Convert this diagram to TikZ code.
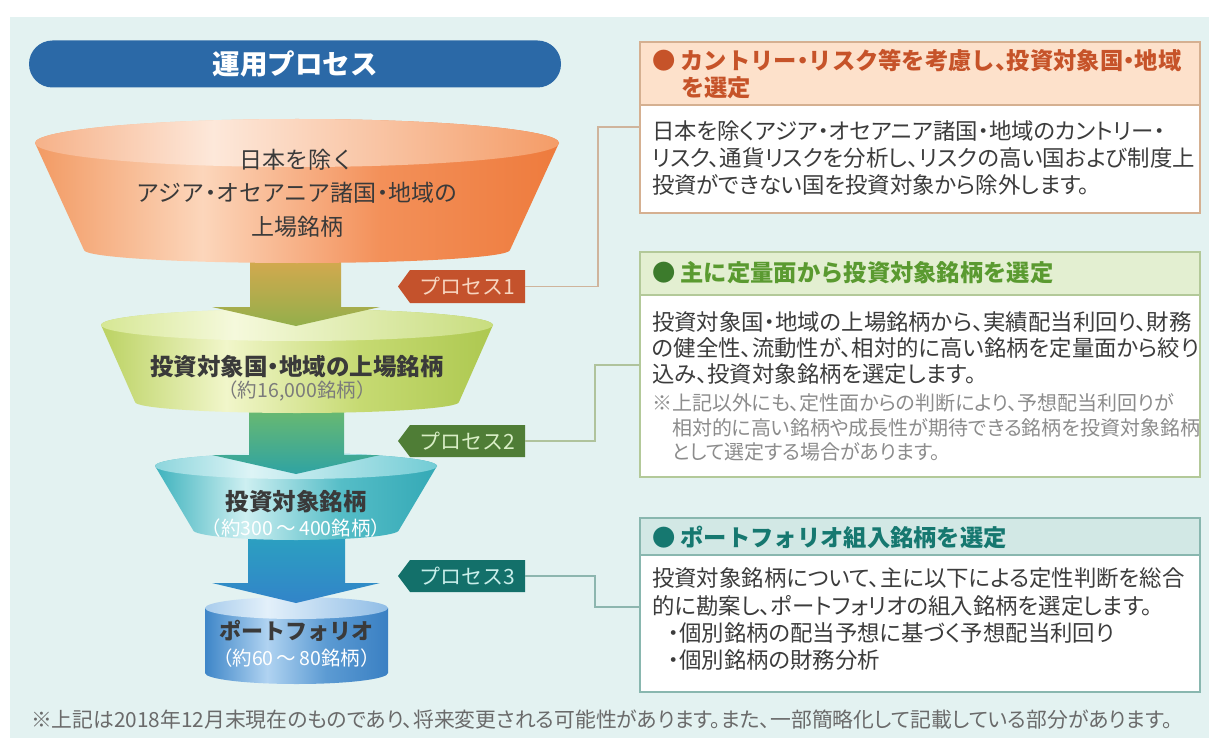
\documentclass[tikz,border=0pt]{standalone}
\usepackage{fontspec}
\setmainfont{Noto Sans CJK JP}[RawFeature=+palt]
\newfontfamily\fw{Noto Sans CJK JP}
\newcommand\nk{\makebox[.5em][c]{・}}
\newcommand\tn{\makebox[.5em][l]{、}}
\definecolor{panel}{HTML}{E3F2F1}
\definecolor{titleblue}{HTML}{2B69A7}
\definecolor{txt}{HTML}{3A3A3A}
\definecolor{subg}{HTML}{7B7B7B}
\definecolor{orL}{HTML}{F29A63}\definecolor{orH}{HTML}{FCD6BB}\definecolor{orM}{HTML}{F39059}\definecolor{orE}{HTML}{EE7B3D}
\definecolor{otL}{HTML}{F6B188}\definecolor{otH}{HTML}{FDE8DA}\definecolor{otR}{HTML}{F49C67}
\definecolor{grL}{HTML}{BBD262}\definecolor{grH}{HTML}{F1F6CA}\definecolor{grM}{HTML}{C6DA72}\definecolor{grE}{HTML}{ADC850}
\definecolor{gtL}{HTML}{D6E794}\definecolor{gtH}{HTML}{F5F9DC}\definecolor{gtR}{HTML}{C8DD7E}
\definecolor{tlL}{HTML}{3DB2BD}\definecolor{tlH}{HTML}{CDEFF1}\definecolor{tlM}{HTML}{55BDC7}\definecolor{tlE}{HTML}{34A9B6}
\definecolor{ttL}{HTML}{8CD5DC}\definecolor{ttH}{HTML}{DDF4F6}\definecolor{ttR}{HTML}{72CCD5}
\definecolor{cyL}{HTML}{3E86C8}\definecolor{cyH}{HTML}{B0D3F1}\definecolor{cyM}{HTML}{5C9BD3}\definecolor{cyE}{HTML}{3A80C3}
\definecolor{ctL}{HTML}{A8CCEC}\definecolor{ctH}{HTML}{E3F0FA}\definecolor{ctR}{HTML}{90BDE6}
\definecolor{aoT}{HTML}{E3A74F}\definecolor{aoB}{HTML}{93AF4B}
\definecolor{agT}{HTML}{72BC68}\definecolor{agB}{HTML}{2FA3A3}
\definecolor{atT}{HTML}{2AA5BF}\definecolor{atB}{HTML}{3284C9}
\definecolor{tg1}{HTML}{C4522C}\definecolor{tg1t}{HTML}{F7D5C0}
\definecolor{tg2}{HTML}{4F7D36}\definecolor{tg2t}{HTML}{D9EEC6}
\definecolor{tg3}{HTML}{13706A}\definecolor{tg3t}{HTML}{C8EEEA}
\definecolor{b1h}{HTML}{FDE1CB}\definecolor{b1bd}{HTML}{D5B091}\definecolor{b1t}{HTML}{C65329}
\definecolor{b2h}{HTML}{E3EFD1}\definecolor{b2bd}{HTML}{B3C999}\definecolor{b2t}{HTML}{5A9A30}\definecolor{b2d}{HTML}{3C7B2C}
\definecolor{b3h}{HTML}{D2E8E5}\definecolor{b3bd}{HTML}{89B7AF}\definecolor{b3t}{HTML}{167870}
\definecolor{c1}{HTML}{CFB49C}\definecolor{c2}{HTML}{AFC39C}\definecolor{c3}{HTML}{8DB6AF}
\definecolor{bodyc}{HTML}{3C3C3C}\definecolor{notec}{HTML}{8C8C8C}\definecolor{footc}{HTML}{6A6A6A}
\pgfdeclarehorizontalshading{orf}{100bp}{color(0bp)=(orL); color(25bp)=(orL); color(41bp)=(orH); color(58bp)=(orM); color(75bp)=(orE); color(100bp)=(orE)}
\pgfdeclarehorizontalshading{ort}{100bp}{color(0bp)=(otL); color(25bp)=(otL); color(42bp)=(otH); color(75bp)=(otR); color(100bp)=(otR)}
\pgfdeclarehorizontalshading{grf}{100bp}{color(0bp)=(grL); color(25bp)=(grL); color(41bp)=(grH); color(58bp)=(grM); color(75bp)=(grE); color(100bp)=(grE)}
\pgfdeclarehorizontalshading{grt}{100bp}{color(0bp)=(gtL); color(25bp)=(gtL); color(42bp)=(gtH); color(75bp)=(gtR); color(100bp)=(gtR)}
\pgfdeclarehorizontalshading{tlf}{100bp}{color(0bp)=(tlL); color(25bp)=(tlL); color(41bp)=(tlH); color(58bp)=(tlM); color(75bp)=(tlE); color(100bp)=(tlE)}
\pgfdeclarehorizontalshading{tlt}{100bp}{color(0bp)=(ttL); color(25bp)=(ttL); color(42bp)=(ttH); color(75bp)=(ttR); color(100bp)=(ttR)}
\pgfdeclarehorizontalshading{cyf}{100bp}{color(0bp)=(cyL); color(25bp)=(cyL); color(42bp)=(cyH); color(58bp)=(cyM); color(75bp)=(cyE); color(100bp)=(cyE)}
\pgfdeclarehorizontalshading{cyt}{100bp}{color(0bp)=(ctL); color(25bp)=(ctL); color(42bp)=(ctH); color(75bp)=(ctR); color(100bp)=(ctR)}
\begin{document}
\begin{tikzpicture}[x=1pt,y=-1pt,
  every node/.style={inner sep=0pt,outer sep=0pt},
  flbl/.style={font=\fw\fontsize{23.5}{23.5}\selectfont\bfseries,text=txt},
  flreg/.style={font=\fw\fontsize{23}{23}\selectfont,text=txt},
  fsub/.style={font=\fw\fontsize{19.5}{19.5}\selectfont},
  tagtxt/.style={font=\fw\fontsize{21}{21}\selectfont,minimum width=116pt,minimum height=32pt},
  hd/.style={font=\fw\fontsize{23.3}{23.3}\selectfont\bfseries,anchor=west},
  bd/.style={font=\fontsize{22.4}{22.4}\selectfont,text=bodyc,anchor=west},
  nt/.style={font=\fontsize{20}{20}\selectfont,text=notec,anchor=west},
  boxh/.style={draw,line width=1.4pt,minimum width=560pt,anchor=north west},
  con/.style={line width=1.6pt}]
\useasboundingbox (0,0) rectangle (1209,738);
\fill[white] (0,0) rectangle (1209,738);
\fill[panel] (10,17) rectangle (1209,738);
% title
\node[fill=titleblue,rounded corners=23.5pt,minimum width=532pt,minimum height=47pt,text=white,font=\fw\fontsize{27.5}{27.5}\selectfont\bfseries] (title) at (295,64) {運用プロセス};
% cylinder
\path[shading=cyf] (205,608) -- (205,673) arc[start angle=180,end angle=0,x radius=91.5,y radius=11] -- (388,608) -- cycle;
\path[shading=cyt] (296.5,608) ellipse[x radius=91.5,y radius=11];
% arrow 3
\path[top color=atT,bottom color=atB] (248,525) -- (345,525) -- (345,583) -- (380,583) -- (296,603) -- (212,583) -- (248,583) -- cycle;
% funnel 3
\path[shading=tlf] (155,466) arc[start angle=180,end angle=360,x radius=141,y radius=13] -- (399,530) arc[start angle=0,end angle=180,x radius=103,y radius=10] -- cycle;
\path[shading=tlt] (296,466) ellipse[x radius=141,y radius=13];
% arrow 2
\path[top color=agT,bottom color=agB] (249,400) -- (344,400) -- (344,455) -- (380,455) -- (296,474) -- (212,455) -- (249,455) -- cycle;
% funnel 2
\path[shading=grf] (101,325) arc[start angle=180,end angle=360,x radius=196,y radius=16] -- (459,402) arc[start angle=0,end angle=180,x radius=162,y radius=11] -- cycle;
\path[shading=grt] (297,325) ellipse[x radius=196,y radius=16];
% arrow 1
\path[top color=aoT,bottom color=aoB] (250,245) -- (341,245) -- (341,307) -- (380,307) -- (296,326) -- (212,307) -- (250,307) -- cycle;
% funnel 1
\path[shading=orf] (35,143) arc[start angle=180,end angle=360,x radius=262,y radius=24] -- (510,250) arc[start angle=0,end angle=180,x radius=213,y radius=13] -- cycle;
\path[shading=ort] (297,143) ellipse[x radius=262,y radius=24];
% funnel labels
\node[flreg] (f1a) at (297,160) {日本を除く};
\node[flreg] (f1b) at (297,193) {アジア\nk オセアニア諸国\nk 地域の};
\node[flreg] (f1c) at (297,227) {上場銘柄};
\node[flbl] (f2a) at (297,367) {投資対象国\nk 地域の上場銘柄};
\node[fsub,text=subg] (f2b) at (297,391) {（約16,000銘柄）};
\node[flbl] (f3a) at (296,502) {投資対象銘柄};
\node[fsub,text=white] (f3b) at (296,528) {（約300\,～\,400銘柄）};
\node[flbl,font=\fw\fontsize{22}{22}\selectfont\bfseries] (f4a) at (296.5,631) {ポートフォリオ};
\node[fsub,text=white] (f4b) at (296.5,658) {（約60\,～\,80銘柄）};
% tags
\fill[tg1] (525,270) -- (410,270) -- (398,286.5) -- (410,303) -- (525,303) -- cycle;
\node[tagtxt,text=tg1t] (tag1) at (467,286.5) {プロセス1};
\fill[tg2] (525,425) -- (410,425) -- (398,441) -- (410,457) -- (525,457) -- cycle;
\node[tagtxt,text=tg2t] (tag2) at (467,441) {プロセス2};
\fill[tg3] (525,560) -- (410,560) -- (398,576) -- (410,592) -- (525,592) -- cycle;
\node[tagtxt,text=tg3t] (tag3) at (467,576) {プロセス3};
% boxes
\node[boxh,draw=b1bd,fill=b1h,minimum height=63pt] (b1head) at (640,42) {};
\node[boxh,draw=b1bd,fill=white,minimum height=108pt] (b1body) at (640,105) {};
\node[boxh,draw=b2bd,fill=b2h,minimum height=43pt] (b2head) at (640,252) {};
\node[boxh,draw=b2bd,fill=white,minimum height=182pt] (b2body) at (640,295) {};
\node[boxh,draw=b3bd,fill=b3h,minimum height=37pt] (b3head) at (640,518) {};
\node[boxh,draw=b3bd,fill=white,minimum height=137pt] (b3body) at (640,555) {};
% connectors
\coordinate (k1) at (598,127);
\coordinate (k2) at (595,365);
\coordinate (k3) at (595,607);
\draw[con,draw=c1] (tag1.east) -- (tag1.east -| k1) -- (k1) -- (k1 -| b1body.west);
\draw[con,draw=c2] (tag2.east) -- (tag2.east -| k2) -- (k2) -- (k2 -| b2body.west);
\draw[con,draw=c3] (tag3.east) -- (tag3.east -| k3) -- (k3) -- (k3 -| b3body.west);
% box 1 text
\node[hd,text=b1t] (h1a) at (652,61) {● カントリー\nk リスク等を考慮し\tn 投資対象国\nk 地域};
\node[hd,text=b1t] (h1b) at (681,88) {を選定};
\node[bd] (t1a) at (652,131) {日本を除くアジア・オセアニア諸国・地域のカントリー・};
\node[bd] (t1b) at (652,158) {リスク、通貨リスクを分析し、リスクの高い国および制度上};
\node[bd] (t1c) at (652,185) {投資ができない国を投資対象から除外します。};
% box 2 text
\node[hd,text=b2t] (h2a) at (652,273) {{\color{b2d}●} 主に定量面から投資対象銘柄を選定};
\node[bd] (t2a) at (652,322) {投資対象国・地域の上場銘柄から、実績配当利回り、財務};
\node[bd] (t2b) at (652,348) {の健全性、流動性が、相対的に高い銘柄を定量面から絞り};
\node[bd] (t2c) at (652,374) {込み、投資対象銘柄を選定します。};
\node[nt] (n2a) at (652,403) {※上記以外にも、定性面からの判断により、予想配当利回りが};
\node[nt] (n2b) at (672,428) {相対的に高い銘柄や成長性が期待できる銘柄を投資対象銘柄};
\node[nt] (n2c) at (672,452) {として選定する場合があります。};
% box 3 text
\node[hd,text=b3t] (h3a) at (652,537) {● ポートフォリオ組入銘柄を選定};
\node[bd] (t3a) at (652,578) {投資対象銘柄について、主に以下による定性判断を総合};
\node[bd] (t3b) at (652,606) {的に勘案し、ポートフォリオの組入銘柄を選定します。};
\node[bd] (t3c) at (668,633) {・個別銘柄の配当予想に基づく予想配当利回り};
\node[bd] (t3d) at (668,660) {・個別銘柄の財務分析};
% footer
\node[anchor=west,font=\fontsize{20.8}{20.8}\selectfont,text=footc] (foot) at (31,720) {※上記は2018年12月末現在のものであり、将来変更される可能性があります。また、一部簡略化して記載している部分があります。};
\end{tikzpicture}
\end{document}
